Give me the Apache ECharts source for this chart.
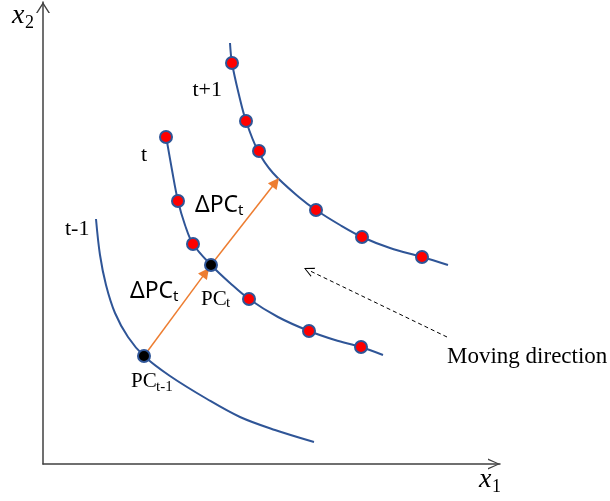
<!DOCTYPE html>
<html>
<head>
<meta charset="utf-8">
<script src="https://cdn.jsdelivr.net/npm/echarts@6/dist/echarts.min.js"></script>
<style>
  html, body { margin: 0; padding: 0; background: #fff; }
  #chart { width: 610px; height: 501px; }
</style>
</head>
<body>
<div id="chart"></div>
<script>
// curves for t-1, t, t+1  ([x1, x2] in plot units, origin at the axes corner)
const curvePrev = [[53,245],[57,209],[63,179],[72,151],[85,127],[101,108],[127,88],[164,65],[197,47],[232,34],[271,22]];
const curveNow = [[123,328],[129,294],[135,263],[142,239],[150,220],[168,199],[187,181],[206,165],[235,147],[266,133],[292,124],[318,117],[340,109]];
const curveNext = [[187,421],[189,401],[196,369],[203,343],[215,313],[230,291],[257,266],[273,254],[297,239],[319,227],[347,216],[379,207],[405,199]];

// observed points
const pointsNow = [[123,327],[135,263],[150,220],[206,165],[266,133],[318,117]];
const pointsNext = [[189,401],[203,343],[216,313],[273,254],[319,227],[379,207]];
const pcPoints = [[101,108],[168,199]];

// arrows: [start, tip]
const deltaArrows = [[[101,108],[166,196]], [[168,199],[236,286]]];
const moveArrow = [[404,127],[261,196]];

const BLUE = '#2F5597';
const SERIF = "'Liberation Serif', 'Times New Roman', serif";
const SANS = "'Noto Sans', sans-serif";

// open arrow head, pointing up
function chevron(w, h, t) {
  return 'path://M0,' + h + ' L' + (w / 2) + ',0 L' + w + ',' + h + ' L' + (w - t) + ',' + h +
    ' L' + (w / 2) + ',' + (t * 1.6) + ' L' + t + ',' + h + ' Z';
}

// move the end back so the head's tip lands on the tip
function toCenter(seg, half) {
  const a = seg[0], b = seg[1];
  const dx = b[0] - a[0], dy = b[1] - a[1];
  const len = Math.hypot(dx, dy);
  return { coords: [a, [b[0] - dx / len * half, b[1] - dy / len * half]] };
}

function txt(x, y, text, size, family, italic) {
  return {
    type: 'text', x: x, y: y, z: 10,
    style: {
      text: text,
      font: (italic ? 'italic ' : '') + size + 'px ' + family,
      fill: '#000',
      textAlign: 'left', textVerticalAlign: 'middle',
      align: 'left', verticalAlign: 'middle'
    }
  };
}

function curve(data) {
  return {
    type: 'line', data: data, smooth: 0.35, showSymbol: false, silent: true, z: 1,
    lineStyle: { color: BLUE, width: 2 }
  };
}

const chart = echarts.init(document.getElementById('chart'));
chart.setOption({
  animation: false,
  grid: { left: 43, right: 110, top: 2, bottom: 37, outerBoundsMode: 'none' },
  xAxis: {
    type: 'value', min: 0, max: 457,
    axisLine: {
      show: true, onZero: false,
      lineStyle: { color: '#404040', width: 1.5 },
      symbol: ['none', chevron(11, 12, 1.4)], symbolSize: [11, 12], symbolOffset: [0, -6]
    },
    axisTick: { show: false }, axisLabel: { show: false }, splitLine: { show: false }
  },
  yAxis: {
    type: 'value', min: 0, max: 462,
    axisLine: {
      show: true, onZero: false,
      lineStyle: { color: '#404040', width: 1.5 },
      symbol: ['none', chevron(14, 11, 1.6)], symbolSize: [14, 11], symbolOffset: [0, -5.5]
    },
    axisTick: { show: false }, axisLabel: { show: false }, splitLine: { show: false }
  },
  series: [
    curve(curvePrev),
    curve(curveNow),
    curve(curveNext),
    {
      type: 'lines', coordinateSystem: 'cartesian2d', silent: true, z: 3,
      symbol: ['none', 'triangle'], symbolSize: [0, 11],
      lineStyle: { color: '#ED7D31', width: 1.5, opacity: 1 },
      data: deltaArrows.map(function (s) { return toCenter(s, 5.5); })
    },
    {
      type: 'lines', coordinateSystem: 'cartesian2d', silent: true, z: 3,
      symbol: ['none', chevron(10, 10, 1.3)], symbolSize: [0, 10],
      lineStyle: { color: '#000', width: 1, type: [4, 3], opacity: 1 },
      data: [toCenter(moveArrow, 5)]
    },
    {
      type: 'scatter', data: pointsNow.concat(pointsNext), symbolSize: 12, silent: true, z: 5,
      itemStyle: { color: '#FF0000', borderColor: BLUE, borderWidth: 2, opacity: 1 }
    },
    {
      type: 'scatter', data: pcPoints, symbolSize: 12, silent: true, z: 5,
      itemStyle: { color: '#000', borderColor: BLUE, borderWidth: 2, opacity: 1 }
    }
  ],
  graphic: [
    txt(12, 15.5, 'x', 28, SERIF, true),
    txt(25, 23, '2', 18, SERIF),
    txt(479, 480, 'x', 28, SERIF, true),
    txt(492, 487, '1', 18, SERIF),
    txt(192.5, 90.5, 't+1', 22, SERIF),
    txt(141, 155, 't', 22, SERIF),
    txt(65, 229, 't-1', 22, SERIF),
    txt(195, 205, 'ΔPC', 23, SANS),
    txt(238, 211, 't', 15, SANS),
    txt(130, 291, 'ΔPC', 23, SANS),
    txt(173, 297, 't', 15, SANS),
    txt(201, 299.5, 'PC', 21, SERIF),
    txt(226, 303, 't', 15, SERIF),
    txt(131, 381, 'PC', 21, SERIF),
    txt(156, 387, 't-1', 15, SERIF),
    txt(447, 357, 'Moving direction', 23, SERIF)
  ]
});
</script>
</body>
</html>
